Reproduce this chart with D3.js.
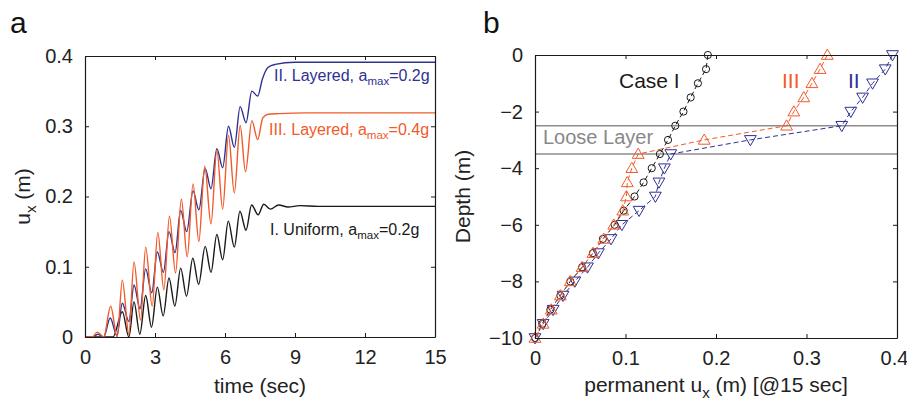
<!DOCTYPE html>
<html>
<head>
<meta charset="utf-8">
<script src="https://cdn.jsdelivr.net/npm/d3@7"></script>
<style>
  body { margin: 0; background: #fff; overflow: hidden; }
  text { font-family: "Liberation Sans", Arial, sans-serif; }
</style>
</head>
<body>
<svg id="fig" width="907" height="401"></svg>
<script>
// ---- panel a: time histories, extrema [t (s), u_x (m)]
const uniform02 = [[0,0],[1.2,0],[1.6,0.036],[1.88,0],[2.1,0.05],[2.35,0.004],[2.6,0.059],[2.85,0.014],
  [3.1,0.071],[3.35,0.03],[3.6,0.084],[3.85,0.044],[4.1,0.098],[4.35,0.058],[4.62,0.112],[4.87,0.075],
  [5.15,0.129],[5.4,0.092],[5.65,0.146],[5.9,0.11],[6.14,0.165],[6.4,0.128],[6.64,0.179],[6.9,0.152],
  [7.14,0.188],[7.42,0.174],[7.66,0.189],[7.95,0.182],[8.3,0.188],[8.7,0.185],[9.2,0.187],[10,0.186],[15,0.186]];
const layered02 = [[0,0],[0.35,0],[0.55,0.004],[0.8,0],[1.08,0.027],[1.37,0.002],[1.6,0.048],[1.88,0.022],
  [2.1,0.074],[2.36,0.04],[2.6,0.097],[2.86,0.063],[3.1,0.121],[3.36,0.092],[3.6,0.15],[3.86,0.12],
  [4.1,0.18],[4.36,0.15],[4.63,0.208],[4.88,0.181],[5.15,0.24],[5.4,0.211],[5.65,0.268],[5.9,0.241],
  [6.15,0.3],[6.4,0.27],[6.65,0.328],[6.9,0.305],[7.15,0.35],[7.4,0.343],[7.6,0.367],[7.85,0.384],
  [8.15,0.388],[9,0.391],[15,0.391]];
const layered04 = [[0,0],[0.3,0],[0.53,0.007],[0.8,0],[1.1,0.044],[1.38,0],[1.6,0.081],[1.88,0.004],
  [2.1,0.107],[2.38,0.024],[2.6,0.128],[2.88,0.044],[3.12,0.149],[3.38,0.067],[3.62,0.172],[3.88,0.091],
  [4.13,0.196],[4.38,0.114],[4.63,0.218],[4.88,0.136],[5.13,0.243],[5.4,0.161],[5.65,0.266],[5.9,0.182],
  [6.15,0.287],[6.4,0.205],[6.65,0.301],[6.88,0.235],[7.15,0.308],[7.4,0.281],[7.62,0.312],[7.85,0.317],
  [8.3,0.318],[9.5,0.319],[15,0.319]];
const timeTicks = [0, 3, 6, 9, 12, 15];
const uTicks = [0, 0.1, 0.2, 0.3, 0.4];

// ---- panel b: permanent displacement profile
const depths = [0,-0.5,-1,-1.5,-2,-2.5,-3,-3.5,-4,-4.5,-5,-5.5,-6,-6.5,-7,-7.5,-8,-8.5,-9,-9.5,-10];
const caseI   = [0.191,0.189,0.180,0.172,0.164,0.155,0.147,0.138,0.129,0.120,0.110,0.098,0.088,0.075,0.064,0.052,0.039,0.028,0.017,0.008,0];
const caseII  = [0.395,0.387,0.373,0.362,0.349,0.339,0.238,0.150,0.143,0.137,0.133,0.115,0.096,0.084,0.070,0.058,0.044,0.031,0.020,0.009,0];
const caseIII = [0.323,0.315,0.306,0.297,0.286,0.278,0.187,0.114,0.107,0.102,0.101,0.097,0.087,0.076,0.064,0.052,0.039,0.028,0.018,0.009,0];
const looseLayer = [-2.5, -3.5];
const profileXTicks = [0, 0.1, 0.2, 0.3, 0.4];
const depthTicks = [0, -2, -4, -6, -8, -10];

const BLACK = "#1a1a1a", BLUE = "#2e3192", ORANGE = "#f15a29", GRAY = "#8c8c8c";
const svg = d3.select("#fig");
svg.append("rect").attr("width", 907).attr("height", 401).attr("fill", "#fff");

function frame(g, x, y, w, h, xt, yt, xf, yf) {
  const style = a => a.attr("font-size", 20).attr("font-family", "Liberation Sans, Arial, sans-serif");
  g.append("g").attr("class", "xax").attr("transform", `translate(0,${h})`)
    .call(d3.axisBottom(x).tickValues(xt).tickFormat(xf).tickSize(-4).tickSizeOuter(0).tickPadding(13)).call(style);
  g.append("g")
    .call(d3.axisLeft(y).tickValues(yt).tickFormat(yf).tickSize(-4).tickSizeOuter(0).tickPadding(12)).call(style);
  g.append("g").call(d3.axisTop(x).tickValues(xt).tickFormat("").tickSize(-4).tickSizeOuter(0));
  g.append("g").attr("transform", `translate(${w},0)`)
    .call(d3.axisRight(y).tickValues(yt).tickFormat("").tickSize(-4).tickSizeOuter(0));
  g.selectAll(".domain").attr("stroke", BLACK).attr("stroke-width", 1.2);
  g.selectAll(".tick line").attr("stroke", BLACK);
  g.selectAll(".tick text").attr("fill", "#222");
}

// text with one subscript: parts = [before, sub, after, ...rest]
function subText(sel, parts, size) {
  sel.append("tspan").text(parts[0]);
  sel.append("tspan").attr("font-size", size * 0.72).attr("dy", size * 0.28).text(parts[1]);
  sel.append("tspan").attr("dy", -size * 0.28).text(parts[2]);
  parts.slice(3).forEach(p => sel.append("tspan").text(p));
  return sel;
}

// ---------- panel a
const aW = 350, aH = 281;
const ga = svg.append("g").attr("transform", "translate(85,56)");
const xa = d3.scaleLinear().domain([0, 15]).range([0, aW]);
const ya = d3.scaleLinear().domain([0, 0.4]).range([aH, 0]);

const histLine = d3.line().x(d => xa(d[0])).y(d => ya(d[1])).curve(d3.curveMonotoneX);
[[uniform02, BLACK], [layered02, BLUE], [layered04, ORANGE]].forEach(([s, c]) => {
  ga.append("path").datum(s).attr("d", histLine)
    .attr("fill", "none").attr("stroke", c).attr("stroke-width", 1.4);
});
frame(ga, xa, ya, aW, aH, timeTicks, uTicks, d3.format("d"), d => d === 0 ? "0" : d3.format(".1f")(d));

subText(ga.append("text").attr("x", 189).attr("y", 25).attr("font-size", 16).attr("fill", BLUE),
  ["II. Layered, a", "max", "=0.2g"], 16);
subText(ga.append("text").attr("x", 184).attr("y", 79).attr("font-size", 16).attr("fill", ORANGE),
  ["III. Layered, a", "max", "=0.4g"], 16);
subText(ga.append("text").attr("x", 185).attr("y", 179).attr("font-size", 16).attr("fill", BLACK),
  ["I. Uniform, a", "max", "=0.2g"], 16);

ga.append("text").attr("x", aW / 2).attr("y", aH + 56).attr("text-anchor", "middle")
  .attr("font-size", 21).attr("fill", "#222").text("time (sec)");
subText(ga.append("text").attr("transform", `translate(-55,${aH / 2}) rotate(-90)`)
  .attr("text-anchor", "middle").attr("font-size", 21).attr("fill", "#222"), ["u", "x", " (m)"], 21);

svg.append("text").attr("x", 10).attr("y", 33).attr("font-size", 30).attr("fill", "#111").text("a");

// ---------- panel b
const bW = 362, bH = 283;
const gb = svg.append("g").attr("transform", "translate(535,55)");
const xb = d3.scaleLinear().domain([0, 0.4]).range([0, bW]);
const yb = d3.scaleLinear().domain([-10, 0]).range([bH, 0]);

looseLayer.forEach(d => {
  gb.append("line").attr("x1", 0).attr("x2", bW).attr("y1", yb(d)).attr("y2", yb(d))
    .attr("stroke", GRAY).attr("stroke-width", 1.4);
});

const profLine = d3.line().x(d => xb(d[0])).y(d => yb(d[1]));
const tri = d3.symbol().type(d3.symbolTriangle).size(60);
[[caseI, BLACK, "circle"], [caseII, BLUE, "down"], [caseIII, ORANGE, "up"]].forEach(([vals, c, m]) => {
  const pts = vals.map((v, i) => [v, depths[i]]);
  gb.append("path").datum(pts).attr("d", profLine)
    .attr("fill", "none").attr("stroke", c).attr("stroke-width", 1).attr("stroke-dasharray", "5,3");
  const mk = gb.append("g").selectAll("path").data(pts).enter();
  if (m === "circle") {
    mk.append("circle").attr("cx", d => xb(d[0])).attr("cy", d => yb(d[1])).attr("r", 3.6)
      .attr("fill", "none").attr("stroke", c).attr("stroke-width", 1);
  } else {
    mk.append("path").attr("d", tri)
      .attr("transform", d => `translate(${xb(d[0])},${yb(d[1]) + (m === "up" ? 0.9 : -0.9)}) rotate(${m === "up" ? 0 : 180})`)
      .attr("fill", "none").attr("stroke", c).attr("stroke-width", 1);
  }
});
frame(gb, xb, yb, bW, bH, profileXTicks, depthTicks,
  d => d === 0 ? "0" : d3.format(".1f")(d), d => d === 0 ? "0" : "\u2212" + Math.abs(d));
// keep the last tick label inside the page
gb.select(".xax").selectAll(".tick text").filter(d => d === 0.4).attr("dx", -3);

gb.append("text").attr("x", 84).attr("y", 33).attr("font-size", 21).attr("fill", BLACK).text("Case I");
gb.append("text").attr("x", 247).attr("y", 33).attr("font-size", 21).attr("fill", ORANGE).text("III");
gb.append("text").attr("x", 313).attr("y", 33).attr("font-size", 21).attr("fill", BLUE).text("II");
gb.append("text").attr("x", 8).attr("y", yb(-3.15)).attr("font-size", 20).attr("fill", "#888").text("Loose Layer");

subText(gb.append("text").attr("x", bW / 2).attr("y", bH + 54).attr("text-anchor", "middle")
  .attr("font-size", 21).attr("fill", "#222"), ["permanent u", "x", " (m) [@15 sec", "]"], 21);
gb.append("text").attr("transform", `translate(-65,${bH / 2}) rotate(-90)`)
  .attr("text-anchor", "middle").attr("font-size", 21).attr("fill", "#222").text("Depth (m)");

svg.append("text").attr("x", 483).attr("y", 33).attr("font-size", 30).attr("fill", "#111").text("b");
</script>
</body>
</html>
